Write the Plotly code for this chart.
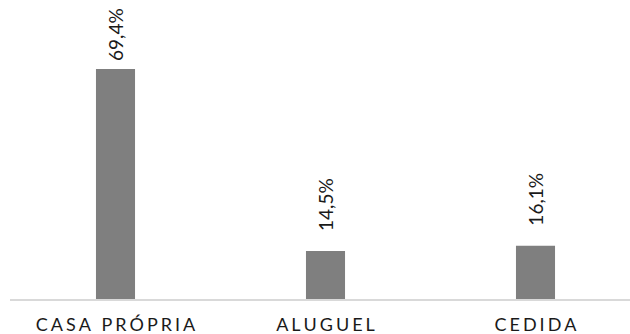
import plotly.graph_objects as go

# Tipo de moradia e respectiva participação (%)
categorias = ["CASA PRÓPRIA", "ALUGUEL", "CEDIDA"]
percentuais = [69.4, 14.5, 16.1]
rotulos = ["69,4%", "14,5%", "16,1%"]

FONTE = "Lato"
COR_BARRA = "#7f7f7f"
COR_TEXTO = "#1a1a1a"


def espacar(texto, sep="\u2006"):
    """Abre o espaçamento entre as letras do rótulo."""
    return sep.join(texto)


# distância (px) entre o topo da barra e o início do rótulo
folga_rotulo = [6, 18, 18]

fig = go.Figure()
fig.add_trace(
    go.Bar(
        x=list(range(len(categorias))),
        y=percentuais,
        marker=dict(color=COR_BARRA, line=dict(width=0)),
        width=0.186,
        hoverinfo="skip",
    )
)

for i, (v, r) in enumerate(zip(percentuais, rotulos)):
    fig.add_annotation(
        x=i,
        y=v,
        text=r,
        textangle=-90,
        showarrow=False,
        xanchor="center",
        yanchor="bottom",
        yshift=folga_rotulo[i],
        font=dict(family=FONTE, size=19, color=COR_TEXTO),
    )

fig.update_layout(
    width=630,
    height=334,
    margin=dict(l=10, r=0, t=0, b=35),
    paper_bgcolor="white",
    plot_bgcolor="white",
    showlegend=False,
    xaxis=dict(
        range=[-0.5024, 2.45],
        tickmode="array",
        tickvals=list(range(len(categorias))),
        ticktext=[espacar(c) for c in categorias],
        showgrid=False,
        zeroline=False,
        showline=True,
        linecolor="#d9d9d9",
        linewidth=2,
        ticks="",
        ticklabelstandoff=8,
        automargin=False,
        tickfont=dict(family=FONTE, size=18, color=COR_TEXTO),
        fixedrange=True,
    ),
    yaxis=dict(
        range=[0, 90.2],
        showgrid=False,
        zeroline=False,
        showline=False,
        showticklabels=False,
        ticks="",
        fixedrange=True,
    ),
)

fig.write_html("out.html")
